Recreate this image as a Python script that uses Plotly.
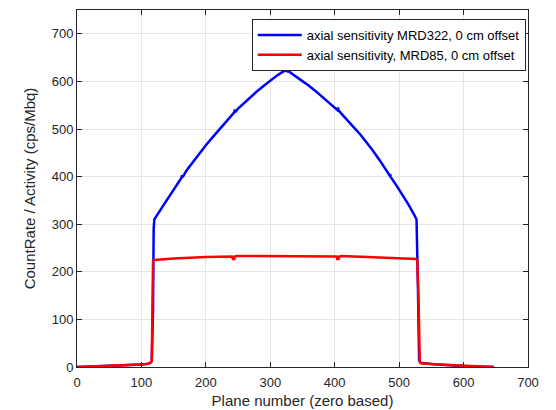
import plotly.graph_objects as go

# Blue series: MRD322
blue_planes = [0, 50, 100, 110, 114, 116, 118, 119, 120, 130, 140, 150, 160, 162, 163, 164, 170,
               180, 190, 200, 210, 220, 230, 240, 244, 245, 246, 250, 260, 270, 280, 290, 300,
               310, 318, 322, 323, 324, 326, 330, 340, 347, 360, 370, 380, 390, 400, 404, 405, 406,
               410, 420, 430, 440, 450, 458, 470, 480, 485, 486, 487, 495, 505, 515, 524, 527,
               529, 531, 533, 560, 600, 647]
blue_values = [0, 2, 5, 7, 9, 12, 120, 290, 310, 331, 352, 372, 393, 397, 403, 399, 413,
               431, 449, 466, 482, 498, 514, 529, 535, 541, 536, 543, 556, 568, 580, 591, 602,
               612, 619, 622, 628, 622, 621, 620, 610, 604, 591, 580, 568, 556, 546, 540, 545, 539,
               533, 519, 503, 488, 471, 457, 434, 413, 403, 405, 399, 383, 362, 340, 318, 310,
               180, 14, 9, 5, 2, 0]

# Red series: MRD85
red_planes = [0, 50, 100, 110, 114, 116, 117, 118, 120, 150, 200, 238, 241, 242, 244, 245, 248,
              280, 320, 360, 400, 403, 404, 406, 407, 410, 450, 500, 526, 528, 530, 532, 534, 560,
              600, 647]
red_values = [0, 2, 5, 7, 9, 12, 150, 222, 225, 228, 231, 233, 232, 227, 227, 232, 233,
              233, 233, 233, 233, 232, 227, 227, 232, 233, 231, 229, 227, 225, 150, 12, 8, 5,
              2, 0]

x_ticks = [0, 100, 200, 300, 400, 500, 600, 700]
y_ticks = [0, 100, 200, 300, 400, 500, 600, 700]

fig = go.Figure()
fig.add_trace(go.Scatter(x=blue_planes, y=blue_values, mode="lines",
                         line=dict(color="#0000ff", width=2.5),
                         name="axial sensitivity MRD322, 0 cm offset"))
fig.add_trace(go.Scatter(x=red_planes, y=red_values, mode="lines",
                         line=dict(color="#ff0000", width=2.5),
                         name="axial sensitivity, MRD85, 0 cm offset"))

axis_common = dict(showline=True, linecolor="#262626", linewidth=1, mirror="ticks",
                   ticks="inside", ticklen=5, tickcolor="#262626", automargin=False,
                   showgrid=True, gridcolor="#e6e6e6", gridwidth=1, zeroline=False,
                   tickfont=dict(family="Liberation Sans, Arial", size=13, color="#262626"))

fig.update_layout(
    width=548, height=402,
    margin=dict(l=69, r=28, t=2, b=43),
    paper_bgcolor="white", plot_bgcolor="white",
    font=dict(family="Liberation Sans, Arial", color="#262626"),
    xaxis=dict(range=[0, 700], tickvals=x_ticks, ticklabelstandoff=3,
               title=dict(text="Plane number (zero based)", font=dict(size=15), standoff=6),
               **axis_common),
    yaxis=dict(range=[0, 750], tickvals=y_ticks,
               title=dict(text="CountRate / Activity (cps/Mbq)", font=dict(size=15), standoff=12),
               **axis_common),
    legend=dict(x=0.995, y=0.975, xanchor="right", yanchor="top",
                bgcolor="white", bordercolor="#262626", borderwidth=1,
                font=dict(size=13, color="#000000"), itemwidth=44,
                tracegroupgap=0),
    showlegend=True,
)

fig.write_html("out.html")
